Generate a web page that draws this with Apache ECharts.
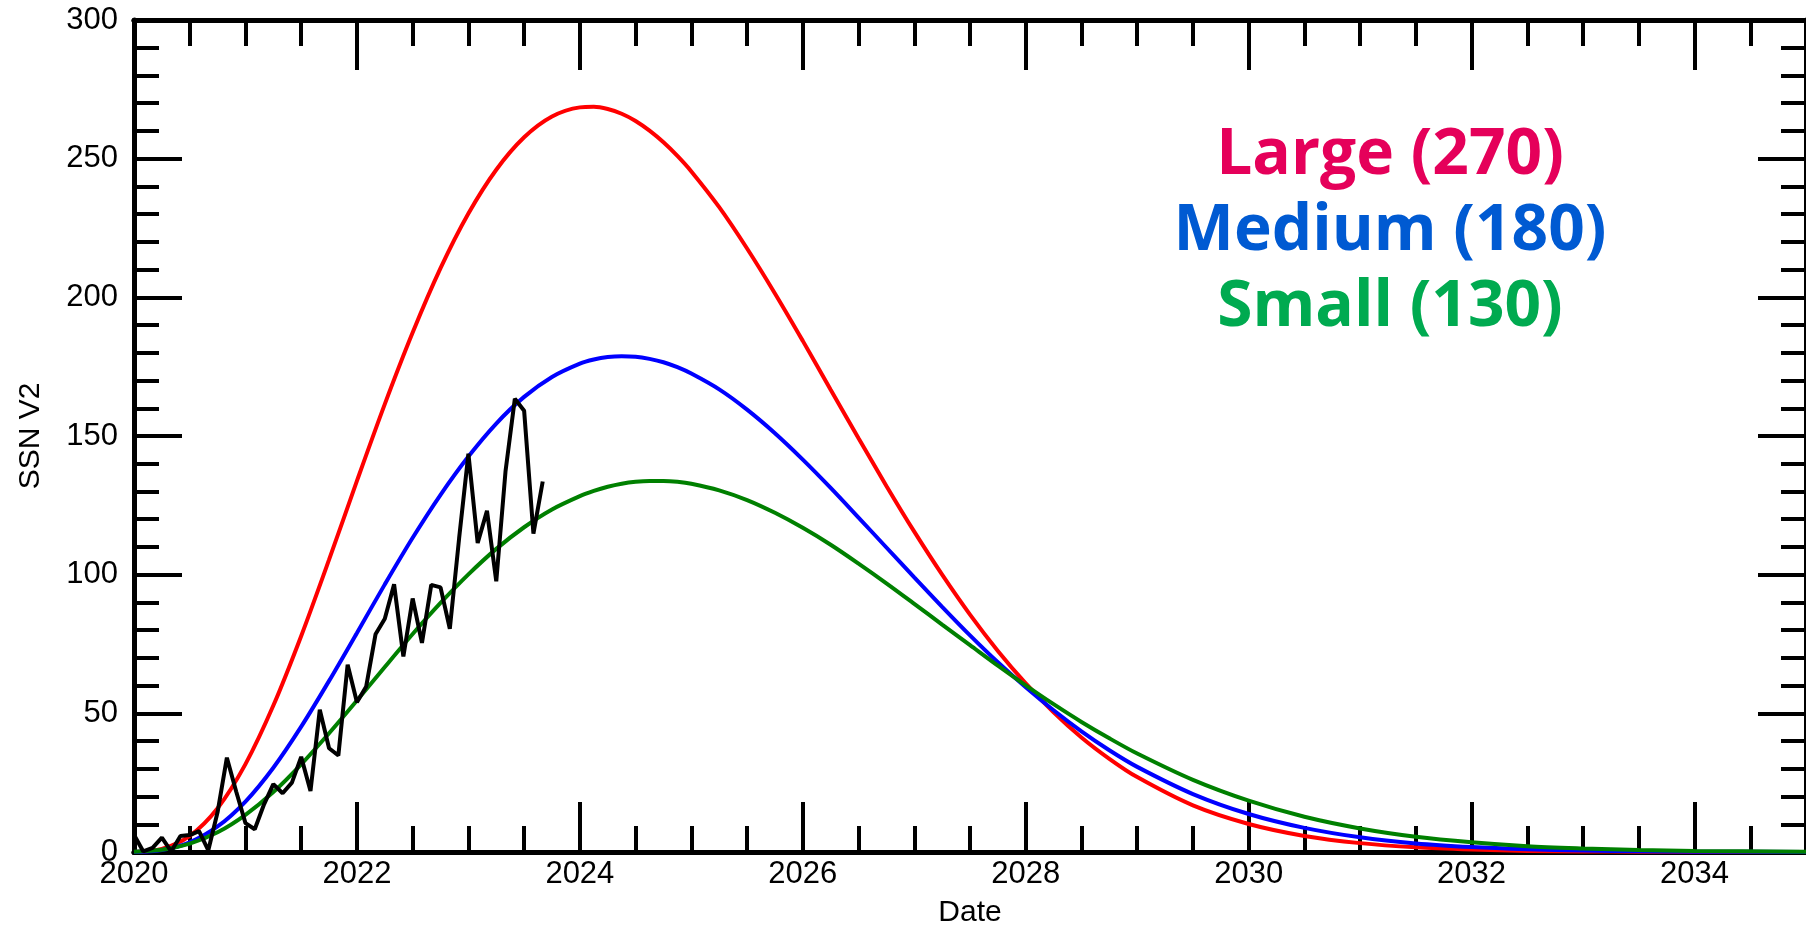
<!DOCTYPE html>
<html>
<head>
<meta charset="utf-8">
<script src="https://cdn.jsdelivr.net/npm/echarts@6/dist/echarts.min.js"></script>
<style>
html,body{margin:0;padding:0;background:#fff;}
#chart{width:1806px;height:933px;}
</style>
</head>
<body>
<div id="chart"></div>
<script>
// ---- Data ----
var curveYears = [2020, 2020.25, 2020.5, 2020.75, 2021, 2021.25, 2021.5, 2021.75, 2022, 2022.25, 2022.5, 2022.75,
  2023, 2023.25, 2023.5, 2023.75, 2024, 2024.125, 2024.25, 2024.375, 2024.5, 2024.625, 2024.75, 2024.875,
  2025, 2025.25, 2025.5, 2025.75,
  2026, 2026.25, 2026.5, 2026.75, 2027, 2027.25, 2027.5, 2027.75, 2028, 2028.25, 2028.5, 2028.75,
  2029, 2029.5, 2030, 2030.5, 2031, 2031.5, 2032, 2032.5, 2033, 2033.5, 2034, 2035];
var largeValues = [0, 1.1, 5.8, 15.8, 31.7, 52.8, 77.9, 105.4, 133.8, 161.5, 187.3, 210.5,
  230.2, 246.0, 257.7, 265.2, 268.5, 268.7, 267.9, 266.2, 263.6, 260.1, 255.9, 251.0,
  245.4, 232.5, 217.6, 201.4,
  184.3, 166.7, 149.2, 132.0, 115.5, 100.0, 85.6, 72.5, 60.8, 50.4, 41.3, 33.6,
  27.0, 16.8, 10.1, 5.8, 3.2, 1.7, 0.9, 0.4, 0.2, 0.1, 0.04, 0];
var mediumValues = [0, 0.7, 3.5, 9.2, 18.2, 30.4, 45.2, 61.7, 79.0, 96.5, 113.3, 128.8,
  142.6, 154.5, 164.1, 171.3, 176.1, 177.6, 178.5, 178.8, 178.6, 177.8, 176.6, 174.8,
  172.5, 166.8, 159.5, 151.0,
  141.5, 131.3, 120.6, 109.8, 99.0, 88.4, 78.1, 68.4, 59.4, 51.1, 43.5, 36.7,
  30.7, 20.9, 13.7, 8.7, 5.3, 3.1, 1.8, 1.0, 0.5, 0.3, 0.13, 0.02];
var smallValues = [0.1, 0.8, 3.0, 7.1, 13.4, 21.6, 31.6, 42.8, 54.6, 66.7, 78.6, 89.8,
  100.1, 109.3, 117.1, 123.5, 128.3, 130.2, 131.7, 132.8, 133.5, 133.8, 133.8, 133.5,
  132.8, 130.4, 126.9, 122.3,
  116.9, 110.8, 104.0, 96.9, 89.5, 82.0, 74.6, 67.2, 60.1, 53.3, 46.9, 41.0,
  35.5, 26.0, 18.5, 12.7, 8.5, 5.5, 3.5, 2.1, 1.3, 0.7, 0.4, 0.1];
// monthly observed SSN, starting January 2020
var obsStartYear = 2020;
var obsValues = [6.2, 0.2, 1.5, 5.2, 0.2, 5.8, 6.1, 7.5, 0.6, 14.4, 34.0, 21.8,
  10.4, 8.2, 17.2, 24.5, 21.2, 25.0, 34.3, 22.0, 51.3, 37.4, 34.8, 67.5,
  54.0, 59.7, 78.5, 84.1, 96.5, 70.5, 91.4, 75.4, 96.3, 95.4, 80.5, 113.1,
  143.6, 111.4, 123.0, 97.6, 137.4, 163.4, 159.1, 114.8, 133.6];
var legendLabels = ['Large (270)', 'Medium (180)', 'Small (130)'];
var xTitle = 'Date';
var yTitle = 'SSN V2';

function pairs(xs, ys){ return xs.map(function(x,i){ return [x, ys[i]]; }); }
var obsData = obsValues.map(function(v,i){ return [obsStartYear + i/12, v]; });

var FONT = 'Liberation Sans';
var axisLine = {show:true, lineStyle:{color:'#000', width:5}};
function xAx(pos, interval, tickLen, labels){
  return {
    type:'value', position:pos, min:2020, max:2035, interval:interval,
    axisLine: axisLine,
    axisTick:{show:true, inside:true, length:tickLen, lineStyle:{color:'#000', width:4}},
    axisLabel: labels ? {show:true, color:'#000', fontFamily:FONT, fontSize:31, margin:7,
      showMaxLabel:false, formatter:function(v){ return String(v); }} : {show:false},
    splitLine:{show:false},
    name: labels ? xTitle : '', nameLocation:'middle', nameGap:46,
    nameTextStyle:{color:'#000', fontFamily:FONT, fontSize:30}
  };
}
function yAx(pos, labels){
  return {
    type:'value', position:pos, min:0, max:300, interval:50,
    axisLine: axisLine,
    axisTick:{show:true, inside:true, length:48, lineStyle:{color:'#000', width:4}},
    minorTick:{show:true, splitNumber:5, length:25, lineStyle:{color:'#000', width:4}},
    axisLabel: labels ? {show:true, color:'#000', fontFamily:FONT, fontSize:31, margin:16} : {show:false},
    splitLine:{show:false}, minorSplitLine:{show:false},
    name: labels ? yTitle : '', nameLocation:'middle', nameGap:88,
    nameTextStyle:{color:'#000', fontFamily:FONT, fontSize:30}
  };
}
function line(data, color, w, smooth){
  return {type:'line', data:data, xAxisIndex:0, yAxisIndex:0, showSymbol:false, symbol:'none',
    smooth: smooth, lineStyle:{color:color, width:w}, itemStyle:{color:color}, z:3, animation:false};
}

var chart = echarts.init(document.getElementById('chart'), null, {renderer:'canvas'});
var LFONT = 'bold 64px "Open Sans"';
chart.setOption({
  animation:false,
  backgroundColor:'#fff',
  grid:{left:134, top:20, width:1680, height:839, containLabel:false},
  xAxis:[xAx('bottom',2,50,true), xAx('bottom',0.5,26,false), xAx('top',2,50,false), xAx('top',0.5,26,false)],
  yAxis:[yAx('left',true), yAx('right',false)],
  series:[
    line(pairs(curveYears, largeValues), '#ff0000', 4, 0.3),
    line(pairs(curveYears, mediumValues), '#0000ff', 4, 0.3),
    line(pairs(curveYears, smallValues), '#008000', 4, 0.3),
    line(obsData, '#000', 4, false)
  ],
  graphic:[
    {type:'text', x:1390, y:156, style:{text:legendLabels[0], fill:'#e5005a', font:LFONT, textAlign:'center', textVerticalAlign:'middle'}},
    {type:'text', x:1390, y:232, style:{text:legendLabels[1], fill:'#005ad2', font:LFONT, textAlign:'center', textVerticalAlign:'middle'}},
    {type:'text', x:1390, y:308, style:{text:legendLabels[2], fill:'#00aa50', font:LFONT, textAlign:'center', textVerticalAlign:'middle'}}
  ]
});
</script>
</body>
</html>
